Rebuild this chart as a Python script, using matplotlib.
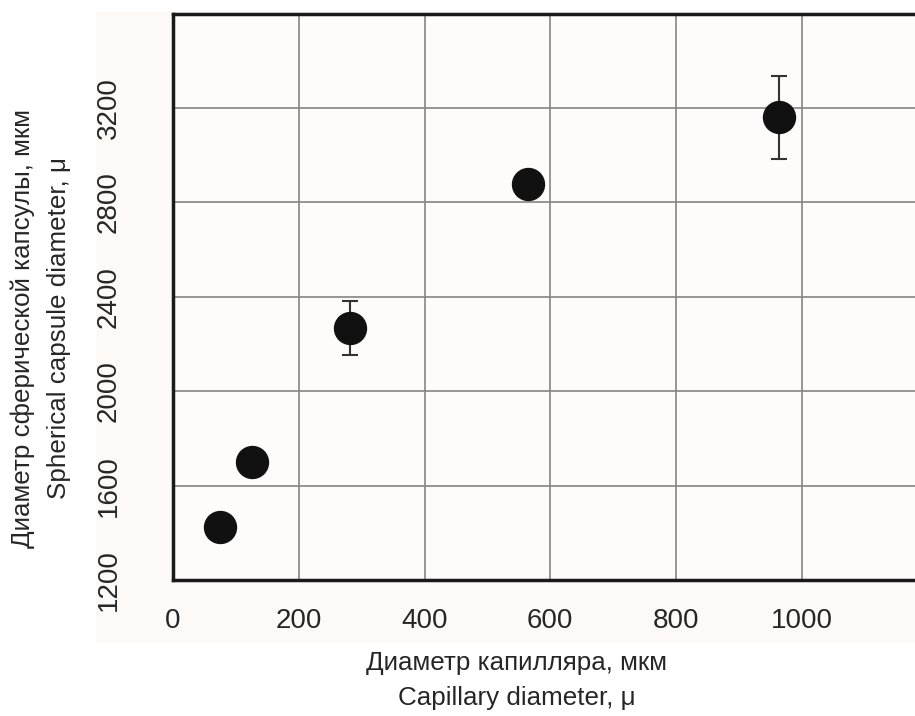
import matplotlib
matplotlib.use("Agg")
import matplotlib.pyplot as plt
from matplotlib.patches import Rectangle

capillary = [75, 126, 282, 564, 964]
capsule = [1424, 1700, 2267, 2876, 3160]
capsule_err = [0, 0, 115, 0, 175]
x_ticks = [0, 200, 400, 600, 800, 1000]
y_ticks = [1200, 1600, 2000, 2400, 2800, 3200]

plt.rcParams['font.family'] = ['Liberation Sans', 'DejaVu Sans']

W, H = 915, 716
fig = plt.figure(figsize=(W / 100, H / 100), dpi=100)
fig.patch.set_facecolor('white')

ax = fig.add_axes([173 / W, 1 - 580 / H, 1 - 173 / W, (580 - 13.5) / H])
ax.set_facecolor('#FEFCFA')
ax.set_xlim(0, 1180)
ax.set_ylim(1200, 3600)
ax.set_xticks(x_ticks)
ax.set_yticks(y_ticks)
ax.set_xticklabels([str(v) for v in x_ticks])
ax.set_yticklabels([str(v) for v in y_ticks], rotation=90, va='center')
ax.tick_params(axis='both', length=0, labelsize=20, colors='#262626')
ax.tick_params(axis='x', pad=20)
ax.tick_params(axis='y', pad=37)
ax.grid(True, color='#858585', linewidth=1.2)
ax.set_axisbelow(True)
for s in ['left', 'bottom', 'top']:
    ax.spines[s].set_linewidth(2.5)
    ax.spines[s].set_color('#1a1a1a')
ax.spines['right'].set_visible(False)

ax.errorbar(capillary, capsule, yerr=capsule_err,
            fmt='o', color='#111111', markersize=23, ecolor='#333333',
            elinewidth=1.5, capsize=6, capthick=1.5, zorder=3)

# beige panel behind the plot
fig.patches.append(Rectangle((96 / W, 1 - 643 / H), 1 - 96 / W, (643 - 12) / H,
                             transform=fig.transFigure, facecolor='#FCF9F6',
                             edgecolor='none', zorder=-5))

fs = 18.7
fig.text(517 / W, 1 - 663 / H, 'Диаметр капилляра, мкм', ha='center', va='center',
         fontsize=fs, color='#262626')
fig.text(517 / W, 1 - 698 / H, 'Capillary diameter, μ', ha='center', va='center',
         fontsize=fs, color='#262626')
fig.text(23 / W, 1 - 328 / H, 'Диаметр сферической капсулы, мкм', ha='center', va='center',
         rotation=90, fontsize=fs, color='#262626')
fig.text(59 / W, 1 - 328 / H, 'Spherical capsule diameter, μ', ha='center', va='center',
         rotation=90, fontsize=fs, color='#262626')

fig.savefig('out.png', dpi=100)
